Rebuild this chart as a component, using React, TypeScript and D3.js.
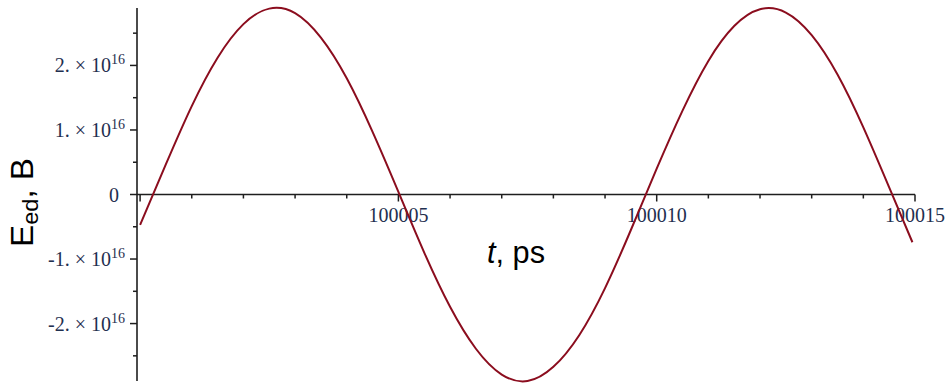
import React from "react";
import * as d3 from "d3";

// Time samples, ps
const tPs = [
  100000, 100000.5, 100001, 100001.5, 100002, 100002.5, 100003, 100003.5,
  100004, 100004.5, 100005, 100005.5, 100006, 100006.5, 100007, 100007.5,
  100008, 100008.5, 100009, 100009.5, 100010, 100010.5, 100011, 100011.5,
  100012, 100012.5, 100013, 100013.5, 100014, 100014.5, 100014.95,
];

// E_ed, in units of 1e16 B
const eVals = [
  -0.47, 0.47, 1.37, 2.12, 2.64, 2.88, 2.81, 2.43,
  1.8, 0.97, 0.04, -0.9, -1.74, -2.39, -2.79, -2.89,
  -2.67, -2.18, -1.45, -0.55, 0.4, 1.3, 2.07, 2.61,
  2.87, 2.82, 2.47, 1.86, 1.04, 0.11, -0.74,
];

const xMajorTicks = [100000, 100005, 100010, 100015];
const xLabelTicks = [100005, 100010, 100015];
const xMinorTicks = [
  100001, 100002, 100003, 100004, 100006, 100007, 100008, 100009,
  100011, 100012, 100013, 100014,
];
const yMajorTicks = [-2, -1, 0, 1, 2];
const yMinorTicks = [-2.5, -1.5, -0.5, 0.5, 1.5, 2.5];

const W = 950;
const H = 385;

const axisColor = "#1e1e1e";
const labelColor = "#1f3050";
const lineColor = "#8b0d1e";

export default function App() {
  const x = d3.scaleLinear().domain([99999.94, 100015]).range([137, 915]);
  const y = d3.scaleLinear().domain([-2.89, 2.89]).range([381, 8]);

  const points = tPs.map((t, i) => [t, eVals[i]] as [number, number]);
  const line = d3
    .line<[number, number]>()
    .x((d) => x(d[0]))
    .y((d) => y(d[1]))
    .curve(d3.curveNatural);

  const x0 = x.range()[0];
  const y0 = y(0);
  const serif = "'Liberation Serif', 'Times New Roman', serif";
  const sans = "'Liberation Sans', Arial, sans-serif";

  return (
    <svg
      width={W}
      height={H}
      viewBox={`0 0 ${W} ${H}`}
      style={{ position: "absolute", left: 0, top: 0, background: "#fff" }}
    >
      {/* vertical axis */}
      <line x1={x0} x2={x0} y1={y.range()[1]} y2={y.range()[0]} stroke={axisColor} strokeWidth={1.6} />
      {/* horizontal axis */}
      <line x1={x0} x2={x.range()[1]} y1={y0} y2={y0} stroke={axisColor} strokeWidth={1.6} />

      {yMajorTicks.map((v) => (
        <line key={`ym${v}`} x1={x0 - 7} x2={x0} y1={y(v)} y2={y(v)} stroke={axisColor} strokeWidth={1.5} />
      ))}
      {yMinorTicks.map((v) => (
        <line key={`yn${v}`} x1={x0 - 4} x2={x0} y1={y(v)} y2={y(v)} stroke={axisColor} strokeWidth={1.5} />
      ))}
      {xMajorTicks.map((v) => (
        <line key={`xm${v}`} x1={x(v)} x2={x(v)} y1={y0} y2={y0 + 7} stroke={axisColor} strokeWidth={1.5} />
      ))}
      {xMinorTicks.map((v) => (
        <line key={`xn${v}`} x1={x(v)} x2={x(v)} y1={y0} y2={y0 + 4} stroke={axisColor} strokeWidth={1.5} />
      ))}

      {/* y tick labels */}
      {yMajorTicks.map((v) =>
        v === 0 ? (
          <text key={`yl${v}`} x={x0 - 18} y={y(v) + 7} textAnchor="end" fontFamily={serif} fontSize={20} fill={labelColor}>
            0
          </text>
        ) : (
          <text key={`yl${v}`} x={x0 - 12} y={y(v) + 7} textAnchor="end" fontFamily={serif} fontSize={20} fill={labelColor}>
            {`${v < 0 ? "-" : ""}${Math.abs(v)}. × 10`}
            <tspan fontSize={14} dy={-8}>16</tspan>
          </text>
        )
      )}

      {/* x tick labels */}
      {xLabelTicks.map((v) => (
        <text key={`xl${v}`} x={x(v)} y={y0 + 27} textAnchor="middle" fontFamily={serif} fontSize={20} fill={labelColor}>
          {v}
        </text>
      ))}

      {/* signal */}
      <path d={line(points) ?? ""} fill="none" stroke={lineColor} strokeWidth={2} strokeLinejoin="round" />

      {/* axis titles */}
      <text
        transform={`translate(33,247) rotate(-90)`}
        fontFamily={sans}
        fontSize={31}
        fill="#000"
        textLength={89}
        lengthAdjust="spacingAndGlyphs"
      >
        E<tspan fontSize={22} dy={5}>ed</tspan>
        <tspan dy={-5}>, B</tspan>
      </text>
      <text x={487} y={263} fontFamily={sans} fontSize={32} fill="#000" textLength={58} lengthAdjust="spacingAndGlyphs">
        <tspan fontStyle="italic">t</tspan>, ps
      </text>
    </svg>
  );
}
